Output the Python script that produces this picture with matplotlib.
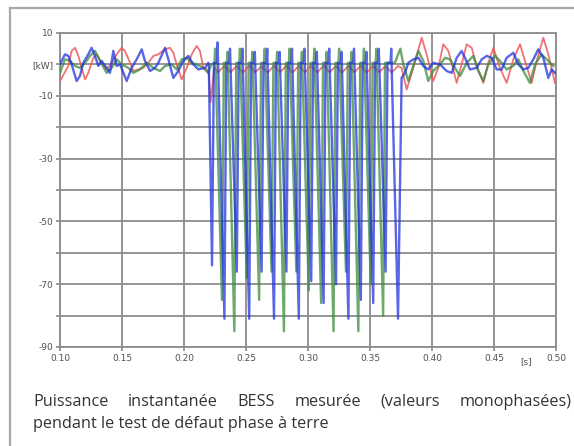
import matplotlib
matplotlib.use("Agg")
import matplotlib.pyplot as plt
from matplotlib.lines import Line2D
from matplotlib.transforms import blended_transform_factory

# ---------------------------------------------------------------------------
# Données (temps [s], puissance [kW])
# ---------------------------------------------------------------------------
red_t = [0.1000, 0.1067, 0.1094, 0.1121, 0.1148, 0.1175, 0.1202, 0.1228, 0.1269,
         0.1296, 0.1336, 0.1376, 0.1417, 0.1457, 0.1497, 0.1524, 0.1565, 0.1591,
         0.1632, 0.1672, 0.1712, 0.1753, 0.1793, 0.1847, 0.1887, 0.1914, 0.1941,
         0.1981, 0.2022, 0.2062, 0.2102, 0.2129, 0.2156, 0.2183, 0.2200, 0.2215,
         0.2245, 0.2275, 0.2325, 0.2375, 0.2425, 0.2475, 0.2525, 0.2575, 0.2625,
         0.2675, 0.2725, 0.2775, 0.2825, 0.2875, 0.2925, 0.2975, 0.3025, 0.3075,
         0.3125, 0.3175, 0.3225, 0.3275, 0.3325, 0.3375, 0.3425, 0.3475, 0.3525,
         0.3575, 0.3625, 0.3675, 0.3725, 0.3755, 0.3796, 0.3849, 0.3917, 0.3957,
         0.4010, 0.4051, 0.4091, 0.4132, 0.4199, 0.4239, 0.4280, 0.4320, 0.4360,
         0.4414, 0.4454, 0.4495, 0.4548, 0.4602, 0.4656, 0.4710, 0.4750, 0.4804,
         0.4844, 0.4898, 0.4938, 0.4992]
red_v = [-5.3, -0.5, 4.3, 5.3, 2.7, -1.1, -4.8, -2.7, 2.1,
         3.2, 0.5, -1.6, 0.5, 3.2, 5.3, 4.3, 0.5, -2.1,
         -1.6, -1.1, 0.5, 2.7, 3.2, 4.8, 5.3, 3.7, 0.0,
         -4.8, -1.1, 3.2, 5.9, 4.3, -1.1, -1.6, -3.0, -12.0,
         -1.0, -2.5, -0.5, -2.5, -0.5, -2.6, -0.4, -2.5, -0.6,
         -2.6, -0.5, -2.5, -0.4, -2.6, -0.5, -2.5, -0.5, -2.6,
         -0.4, -2.5, -0.5, -2.6, -0.5, -2.5, -0.4, -2.6, -0.5,
         -2.5, -0.5, -2.6, -0.5, -1.1, -8.0, -1.1, 8.5, 3.2,
         -5.3, -1.1, 6.4, 4.3, -5.9, 0.0, 6.4, 5.3, -0.5,
         -5.9, 0.5, 5.3, -1.1, -5.9, 1.6, 6.4, 1.1, -5.9,
         1.1, 8.5, 3.2, -5.9]

green_t = [0.1000, 0.1040, 0.1081, 0.1121, 0.1161, 0.1202, 0.1242, 0.1282, 0.1323,
           0.1376, 0.1417, 0.1457, 0.1497, 0.1551, 0.1591, 0.1645, 0.1699, 0.1753,
           0.1806, 0.1847, 0.1901, 0.1941, 0.1981, 0.2022, 0.2062, 0.2102, 0.2156,
           0.2196, 0.2220,
           0.2246, 0.2251, 0.2306, 0.2321, 0.2346, 0.2351, 0.2406, 0.2421,
           0.2446, 0.2451, 0.2506, 0.2521, 0.2546, 0.2551, 0.2606, 0.2621,
           0.2646, 0.2651, 0.2706, 0.2721, 0.2746, 0.2751, 0.2806, 0.2821,
           0.2846, 0.2851, 0.2906, 0.2921, 0.2946, 0.2951, 0.3006, 0.3021,
           0.3046, 0.3051, 0.3106, 0.3121, 0.3146, 0.3151, 0.3206, 0.3221,
           0.3246, 0.3251, 0.3306, 0.3321, 0.3346, 0.3351, 0.3406, 0.3421,
           0.3446, 0.3451, 0.3506, 0.3521, 0.3546, 0.3551, 0.3606, 0.3621,
           0.3700, 0.3745,
           0.3769, 0.3809, 0.3849, 0.3890, 0.3930, 0.3970, 0.4010, 0.4065, 0.4105,
           0.4145, 0.4185, 0.4226, 0.4280, 0.4333, 0.4374, 0.4414, 0.4454, 0.4508,
           0.4548, 0.4602, 0.4656, 0.4696, 0.4737, 0.4790, 0.4831, 0.4884, 0.4925,
           0.4978]
green_v = [-2.7, 1.6, 1.1, -0.5, -1.1, 0.5, 2.7, 4.3, 1.1,
           -2.7, -1.1, 1.6, 0.0, -1.1, -2.7, -1.6, 0.5, -1.1,
           -2.1, -0.5, 0.0, -1.6, 1.6, 2.1, 0.5, 0.0, -1.1,
           -2.7, 0.0,
           0.5, 5.0, -75, 0.5, 0.5, 4.0, -85, 0.5,
           0.5, 5.0, -68, 0.5, 0.5, 4.0, -75, 0.5,
           0.5, 5.0, -66, 0.5, 0.5, 4.0, -85, 0.5,
           0.5, 5.0, -66, 0.5, 0.5, 4.0, -72, 0.5,
           0.5, 5.0, -76, 0.5, 0.5, 4.0, -85, 0.5,
           0.5, 5.0, -66, 0.5, 0.5, 4.0, -85, 0.5,
           0.5, 5.0, -70, 0.5, 0.5, 5.0, -80, 0.5,
           0.5, 5.0,
           0.0, -5.3, -0.5, 4.3, 1.1, -5.3, -2.1, 0.0, 2.1,
           1.6, -1.1, -3.7, 0.5, 2.7, -2.1, -5.3, 0.0, 2.7,
           1.1, -1.6, -0.5, 1.6, -2.1, -5.9, 0.0, 3.2, 1.6,
           -0.5]

blue_t = [0.1000, 0.1040, 0.1067, 0.1094, 0.1134, 0.1161, 0.1188, 0.1228, 0.1255,
          0.1282, 0.1309, 0.1336, 0.1376, 0.1403, 0.1430, 0.1457, 0.1484, 0.1538,
          0.1578, 0.1618, 0.1659, 0.1685, 0.1726, 0.1766, 0.1793, 0.1847, 0.1874,
          0.1914, 0.1954, 0.1995, 0.2035, 0.2075, 0.2116, 0.2169, 0.2196,
          0.2200, 0.2226, 0.2241,
          0.2266, 0.2271, 0.2326, 0.2341, 0.2366, 0.2371, 0.2426, 0.2441,
          0.2466, 0.2471, 0.2526, 0.2541, 0.2566, 0.2571, 0.2626, 0.2641,
          0.2666, 0.2671, 0.2726, 0.2741, 0.2766, 0.2771, 0.2826, 0.2841,
          0.2866, 0.2871, 0.2926, 0.2941, 0.2966, 0.2971, 0.3026, 0.3041,
          0.3066, 0.3071, 0.3126, 0.3141, 0.3166, 0.3171, 0.3226, 0.3241,
          0.3266, 0.3271, 0.3326, 0.3341, 0.3366, 0.3371, 0.3426, 0.3441,
          0.3466, 0.3471, 0.3526, 0.3541, 0.3566, 0.3571, 0.3626, 0.3641,
          0.3666, 0.3671, 0.3726,
          0.3755, 0.3782, 0.3809, 0.3849, 0.3890, 0.3930, 0.3970, 0.4010, 0.4065,
          0.4118, 0.4159, 0.4199, 0.4239, 0.4266, 0.4306, 0.4360, 0.4401, 0.4441,
          0.4481, 0.4522, 0.4562, 0.4602, 0.4656, 0.4696, 0.4737, 0.4777, 0.4817,
          0.4857, 0.4898, 0.4938, 0.4965, 0.4992]
blue_v = [0.0, 3.2, 2.7, 0.0, -5.3, -3.7, 0.5, 3.2, 5.3,
          2.7, -0.5, 1.1, -1.1, -2.7, 4.3, -0.5, 0.0, -5.3,
          -1.1, 1.6, 4.8, 1.1, -2.1, -1.1, 0.5, 5.3, 1.6,
          -4.3, -2.1, 1.1, 2.7, 0.0, -1.6, -1.1, 0.5,
          0.0, -64, 0.5,
          0.5, 7.0, -81, 0.5, 0.5, 5.0, -66, 0.5,
          0.5, 5.0, -81, 0.5, 0.5, 4.0, -66, 0.5,
          0.5, 5.0, -81, 0.5, 0.5, 4.0, -66, 0.5,
          0.5, 5.0, -81, 0.5, 0.5, 5.0, -69, 0.5,
          0.5, 4.0, -76, 0.5, 0.5, 5.0, -70, 0.5,
          0.5, 4.0, -81, 0.5, 0.5, 5.0, -75, 0.5,
          0.5, 4.0, -76, 0.5, 0.5, 5.0, -66, 0.5,
          0.5, 5.0, -81,
          -4.3, -2.7, 0.5, 1.6, 2.1, -0.5, -1.6, 0.5, 0.0,
          -2.1, -2.7, 2.1, 4.3, 2.1, -1.6, -1.1, 1.6, 2.7,
          2.1, -1.6, -1.6, 2.1, 3.7, 0.0, -1.6, -1.1, 1.6,
          4.8, 2.1, -4.3, -1.6, -2.7]

x_ticks = [0.10, 0.15, 0.20, 0.25, 0.30, 0.35, 0.40, 0.45, 0.50]
x_labels = ["0.10", "0.15", "0.20", "0.25", "0.30", "0.35", "0.40", "0.45", "0.50"]
y_ticks = [-90, -80, -70, -60, -50, -40, -30, -20, -10, 0, 10]
y_labels = ["-90", "", "-70", "", "-50", "", "-30", "", "-10", "[kW]", "10"]

caption_line1 = ["Puissance", "instantanée", "BESS", "mesurée", "(valeurs", "monophasées)"]
caption_line2 = "pendant le test de défaut phase à terre"

# ---------------------------------------------------------------------------
W, H, DPI = 574, 446, 100
fig = plt.figure(figsize=(W / DPI, H / DPI), dpi=DPI)
fig.patch.set_facecolor("white")

# cadre extérieur gris : seuls les bords haut et gauche sont visibles
frame_col = "#a8a8a8"
fig.add_artist(Line2D([10 / W, 10 / W], [0, 1 - 8 / H], transform=fig.transFigure,
                      color=frame_col, linewidth=1.6))
fig.add_artist(Line2D([10 / W, 1], [1 - 8 / H, 1 - 8 / H], transform=fig.transFigure,
                      color=frame_col, linewidth=1.6))

ax = fig.add_axes([60 / W, 1 - 347 / H, (556 - 60) / W, (347 - 33) / H])

grid_col = "#8c8c8c"
ax.plot(red_t, red_v, color="#ee5a5a", linewidth=1.3, alpha=0.85, zorder=3)
ax.plot(green_t, green_v, color="#3c8c3c", linewidth=1.7, alpha=0.75, zorder=4)
ax.plot(blue_t, blue_v, color="#2233dd", linewidth=1.7, alpha=0.75, zorder=5)

ax.set_xlim(0.10, 0.50)
ax.set_ylim(-90, 10)
ax.set_xticks(x_ticks)
ax.set_xticklabels(x_labels)
ax.set_yticks(y_ticks)
ax.set_yticklabels(y_labels)
ax.grid(True, color=grid_col, linewidth=1.3, zorder=1)
ax.set_axisbelow(True)
for s in ax.spines.values():
    s.set_color(grid_col)
    s.set_linewidth(1.3)
ax.tick_params(axis="both", direction="out", length=3, width=1.2, color=grid_col,
               labelsize=6.5, labelcolor="#505050", pad=2)
for lab in ax.get_xticklabels() + ax.get_yticklabels():
    lab.set_fontfamily("DejaVu Sans")

trans = blended_transform_factory(ax.transData, ax.transAxes)
ax.text(0.4755, -0.032, "[s]", transform=trans, ha="center", va="top",
        fontsize=6.5, color="#505050")

# légende justifiée sous le graphique
cap_font = dict(fontsize=11.7, color="#333333", family="Open Sans")
renderer = fig.canvas.get_renderer()
words = [fig.text(0, 1 - 402 / H, w, va="center", ha="left", **cap_font)
         for w in caption_line1]
widths = [t.get_window_extent(renderer).width for t in words]
left, right = 33, 572
gap = (right - left - sum(widths)) / (len(words) - 1)
x = left
for t, w in zip(words, widths):
    t.set_x(x / W)
    x += w + gap
fig.text(left / W, 1 - 424 / H, caption_line2, va="center", ha="left", **cap_font)

fig.savefig("out.png", dpi=DPI)
